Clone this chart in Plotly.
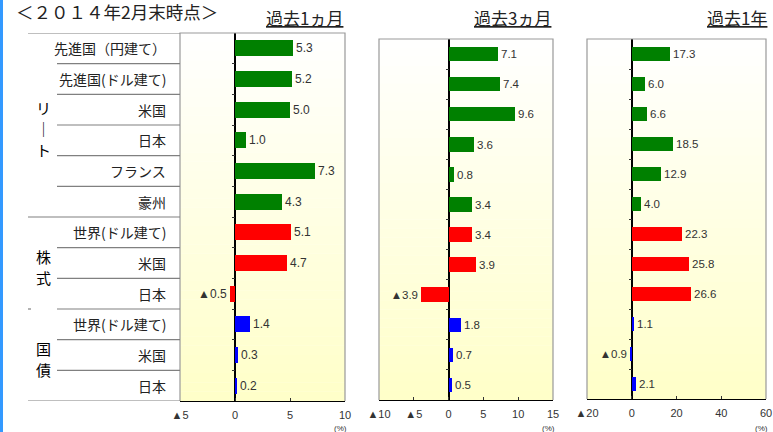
import plotly.graph_objects as go

# ---------------- data ----------------
categories = ["先進国（円建て）", "先進国(ドル建て)", "米国", "日本", "フランス", "豪州",
              "世界(ドル建て)", "米国", "日本",
              "世界(ドル建て)", "米国", "日本"]
groups = [["リ", "｜", "ト"], ["株", "式"], ["国", "債"]]
group_rows = [[0, 1, 2, 3, 4, 5], [6, 7, 8], [9, 10, 11]]
group_colors = ["#008000", "#FF0000", "#0000FF"]

ret_1m = [5.3, 5.2, 5.0, 1.0, 7.3, 4.3, 5.1, 4.7, -0.5, 1.4, 0.3, 0.2]
ret_3m = [7.1, 7.4, 9.6, 3.6, 0.8, 3.4, 3.4, 3.9, -3.9, 1.8, 0.7, 0.5]
ret_1y = [17.3, 6.0, 6.6, 18.5, 12.9, 4.0, 22.3, 25.8, 26.6, 1.1, -0.9, 2.1]

panel_titles = ["過去1ヵ月", "過去3ヵ月", "過去1年"]
tick_vals = [[-5, 0, 5, 10], [-10, -5, 0, 5, 10, 15], [-20, 0, 20, 40, 60]]
tick_text = [["▲5", "0", "5", "10"], ["▲10", "▲5", "0", "5", "10", "15"],
             ["▲20", "0", "20", "40", "60"]]
x_ranges = [[-5, 10], [-10, 15], [-20, 60]]
main_title = "＜２０１４年2月末時点＞"

# ---------------- layout helpers ----------------
W, H = 773, 432
def fx(p):
    return p / W
def fy(p):
    return 1 - p / H

boxes = [(180, 345, 33, 401), (379, 553, 39, 400), (587, 766, 39, 399)]
title_right = [345, 553, 769]
bar_widths = [0.53, 0.48, 0.48]

FONT = "Noto Sans CJK JP"
NUMFONT = "Liberation Sans, Arial, DejaVu Sans"

n = len(categories)
ypos = list(range(n))
colors = []
for gi, rows in enumerate(group_rows):
    for r in rows:
        colors.append(group_colors[gi])

def fmt(v):
    return ("▲%.1f" % abs(v)) if v < 0 else ("%.1f" % v)

fig = go.Figure()
series = [ret_1m, ret_3m, ret_1y]
shapes = []
annotations = []

for k in range(3):
    ax = "" if k == 0 else str(k + 1)
    vals = series[k]
    fig.add_trace(go.Bar(
        x=vals, y=ypos, orientation="h",
        marker=dict(color=colors, line=dict(width=0)),
        width=bar_widths[k],
        text=[fmt(v) for v in vals], textposition="outside",
        textfont=dict(family=NUMFONT, size=12 if k == 0 else 11.5, color="#333333"),
        constraintext="none", cliponaxis=False,
        xaxis="x" + ax, yaxis="y" + ax, showlegend=False, hoverinfo="skip"))

    L, R, T, B = boxes[k]
    xd = [fx(L), fx(R)]
    yd = [fy(B), fy(T)]
    xr = x_ranges[k]
    zero_pos = xd[0] + (0 - xr[0]) / (xr[1] - xr[0]) * (xd[1] - xd[0])
    fig.update_layout(**{
        "xaxis" + ax: dict(domain=xd, range=xr, anchor="y" + ax,
                           tickvals=tick_vals[k], ticktext=tick_text[k],
                           ticks="inside", ticklen=3, tickcolor="#333333",
                           showline=True, linecolor="#000000", linewidth=1,
                           zeroline=True, zerolinecolor="#000000", zerolinewidth=1.5,
                           showgrid=False, fixedrange=True, automargin=False,
                           ticklabeloverflow="allow",
                           tickfont=dict(family=NUMFONT, size=11, color="#333333"),
                           ticklabelstandoff=4),
        "yaxis" + ax: dict(domain=yd, range=[n - 0.5, -0.5], anchor="free",
                           position=zero_pos, automargin=False,
                           tickvals=[i + 0.5 for i in range(n - 1)],
                           ticks="outside", ticklen=3, tickcolor="#333333",
                           showticklabels=False, showline=False, showgrid=False,
                           zeroline=False, fixedrange=True),
    })

    nb = 40
    for b in range(nb):
        t = (b + 0.5) / nb
        r_, g_, b_ = 255, 255, int(round(255 - 55 * t))
        shapes.append(dict(type="rect", xref="x" + ax + " domain", yref="y" + ax + " domain",
                           x0=0, x1=1, y0=1 - (b + 1) / nb, y1=1 - b / nb + 0.001,
                           fillcolor="rgb(%d,%d,%d)" % (r_, g_, b_), line=dict(width=0),
                           layer="below"))
    shapes.append(dict(type="path", xref="x" + ax + " domain", yref="y" + ax + " domain",
                       path="M 0,0 L 0,1 L 1,1 L 1,0", line=dict(color="#999999", width=1.2),
                       layer="above"))

    annotations.append(dict(text="<u>" + panel_titles[k] + "</u>", xref="paper", yref="paper",
                            x=fx(title_right[k]), y=fy(18), xanchor="right", yanchor="middle",
                            showarrow=False, font=dict(family=FONT, size=17, color="#222222")))
    annotations.append(dict(text="(%)", xref="paper", yref="paper",
                            x=fx(min(R + 4, W - 1)), y=fy(428), xanchor="right", yanchor="middle",
                            showarrow=False, font=dict(family=NUMFONT, size=8, color="#333333")))

# ---------------- category table ----------------
line_col = "#808080"
group_bounds = [rows[-1] + 0.5 for rows in group_rows[:-1]]
for i in range(n - 1):
    b = i + 0.5
    x0 = 28 if b in group_bounds[:1] else 57
    shapes.append(dict(type="line", xref="paper", yref="y", x0=fx(x0), x1=fx(180),
                       y0=b, y1=b, line=dict(color=line_col, width=1.2)))
shapes.append(dict(type="line", xref="paper", yref="y", x0=fx(28), x1=fx(31),
                   y0=group_bounds[1], y1=group_bounds[1], line=dict(color=line_col, width=1.2)))
for b in (-0.5, n - 0.5):
    shapes.append(dict(type="line", xref="paper", yref="y", x0=fx(28), x1=fx(180),
                       y0=b, y1=b, line=dict(color=line_col, width=1.2)))

for i, c in enumerate(categories):
    annotations.append(dict(text=c, xref="paper", yref="y", x=fx(168), y=i,
                            xanchor="right", yanchor="middle", showarrow=False,
                            font=dict(family=FONT, size=14, color="#222222")))

# vertical group labels, one character per annotation
step = 21
for gi, chars in enumerate(groups):
    rows = group_rows[gi]
    yc = (rows[0] + rows[-1]) / 2
    m = len(chars)
    for j, ch in enumerate(chars):
        off = (j - (m - 1) / 2) * step + 4
        annotations.append(dict(text=ch, xref="paper", yref="y", x=fx(43), y=yc,
                                yshift=-off, xanchor="center", yanchor="middle",
                                showarrow=False,
                                font=dict(family=FONT, size=15, color="#000000")))

annotations.append(dict(text=main_title, xref="paper", yref="paper", x=fx(14), y=fy(11.5),
                        xanchor="left", yanchor="middle", showarrow=False,
                        font=dict(family=FONT, size=17.5, color="#222222")))

shapes.append(dict(type="rect", xref="paper", yref="paper", x0=0, x1=fx(3), y0=0, y1=1,
                   fillcolor="#3399FF", line=dict(width=0)))

fig.update_layout(width=W, height=H, autosize=False,
                  margin=dict(l=0, r=0, t=0, b=0, pad=0),
                  paper_bgcolor="white", plot_bgcolor="rgba(0,0,0,0)",
                  shapes=shapes, annotations=annotations, bargap=0,
                  font=dict(family=FONT))

fig.write_html("out.html", config={"displayModeBar": False})
